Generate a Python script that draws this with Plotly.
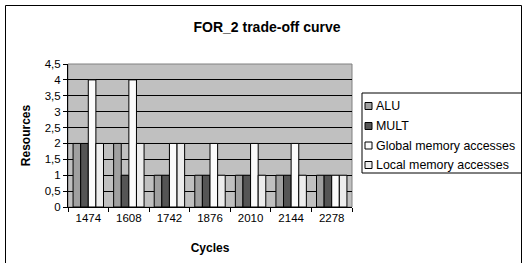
import plotly.graph_objects as go

cycles = ["1474", "1608", "1742", "1876", "2010", "2144", "2278"]
alu = [2, 2, 1, 1, 1, 1, 1]
mult = [2, 1, 1, 1, 1, 1, 1]
global_mem = [4, 4, 2, 2, 2, 2, 1]
local_mem = [2, 2, 2, 1, 1, 1, 1]
y_ticks = [0, 0.5, 1, 1.5, 2, 2.5, 3, 3.5, 4, 4.5]

W, H = 528, 263
L, R, T, B = 68, 352, 64, 207
FONT = "Liberation Sans, Arial, sans-serif"

series = [
    ("ALU", alu, "#a0a0a0"),
    ("MULT", mult, "#555555"),
    ("Global memory accesses", global_mem, "#fbfbfb"),
    ("Local memory accesses", local_mem, "#ececec"),
]

fig = go.Figure()
for name, vals, col in series:
    fig.add_trace(go.Bar(x=cycles, y=vals, name=name, showlegend=False,
                         marker=dict(color=col, line=dict(color="#000000", width=1))))

pw, ph = R - L, B - T
def px(x):
    return (x - L) / pw
def py(y):
    return (B - y) / ph

shapes = [
    dict(type="rect", xref="paper", yref="paper", x0=0, x1=1, y0=0, y1=1,
         line=dict(color="#808080", width=1), layer="below"),
    dict(type="rect", xref="paper", yref="paper", x0=px(5.5), x1=px(521.5), y0=py(5.5), y1=py(270),
         line=dict(color="#000000", width=1)),
    # legend box
    dict(type="rect", xref="paper", yref="paper", x0=px(362), x1=px(521.5), y0=py(93), y1=py(173),
         line=dict(color="#000000", width=1), fillcolor="white"),
]
annotations = []
leg_y = [106, 126, 145.5, 165]
for (name, vals, col), yy in zip(series, leg_y):
    shapes.append(dict(type="rect", xref="paper", yref="paper", x0=px(365), x1=px(372),
                       y0=py(yy - 3.5), y1=py(yy + 3.5), line=dict(color="#000000", width=1), fillcolor=col))
    annotations.append(dict(text=name, xref="paper", yref="paper", x=px(374), y=py(yy), xanchor="left",
                            yanchor="middle", showarrow=False, font=dict(size=12.4, family=FONT)))

fig.update_layout(
    width=W, height=H,
    margin=dict(l=L, r=W - R, t=T, b=H - B, pad=0),
    paper_bgcolor="white",
    plot_bgcolor="#c0c0c0",
    barmode="group",
    bargap=0.25,
    bargroupgap=0,
    separators=", ",
    font=dict(family=FONT, size=11, color="#000000"),
    title=dict(text="<b>FOR_2 trade-off curve</b>", x=267 / W, xanchor="center", y=1 - 27 / H, yanchor="middle",
               font=dict(size=14, family=FONT)),
    showlegend=False,
    xaxis=dict(type="category", showgrid=False, ticks="outside", tickson="boundaries", ticklen=4,
               tickcolor="#000000", showline=True, linecolor="#000000", linewidth=1, automargin=False,
               title=dict(text="<b>Cycles</b>", font=dict(size=12), standoff=20), tickfont=dict(size=11.5)),
    yaxis=dict(range=[0, 4.5], tickvals=y_ticks, ticks="outside", ticklen=4, tickcolor="#000000",
               showgrid=True, gridcolor="#000000", gridwidth=1, zeroline=False, automargin=False,
               showline=True, linecolor="#000000", linewidth=1,
               title=dict(text="<b>Resources</b>", font=dict(size=12), standoff=11), tickfont=dict(size=11.5)),
    shapes=shapes,
    annotations=annotations,
)

fig.write_html("out.html", config={"displayModeBar": False},
               post_script="document.body.style.margin='0';document.body.style.overflow='hidden';")
